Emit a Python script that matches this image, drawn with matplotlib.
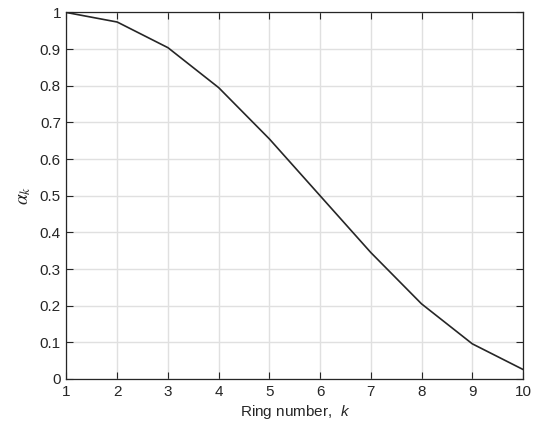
import matplotlib
matplotlib.use("Agg")
import matplotlib.pyplot as plt

# ring index and weights
ring = [1, 2, 3, 4, 5, 6, 7, 8, 9, 10]
alpha = [1.0, 0.974, 0.904, 0.795, 0.655, 0.5, 0.345, 0.205, 0.096, 0.026]

yticks = [0, 0.1, 0.2, 0.3, 0.4, 0.5, 0.6, 0.7, 0.8, 0.9, 1]
ytick_labels = ["0", "0.1", "0.2", "0.3", "0.4", "0.5", "0.6", "0.7", "0.8", "0.9", "1"]

plt.rcParams['font.family'] = ['Liberation Sans', 'DejaVu Sans']
plt.rcParams['mathtext.fontset'] = 'custom'
plt.rcParams['mathtext.it'] = 'Liberation Sans:italic'
plt.rcParams['mathtext.rm'] = 'Liberation Sans'

dark = '#262626'
fig = plt.figure(figsize=(5.38, 4.28), dpi=100)
ax = fig.add_axes([0.1236, 0.1145, 0.8485, 0.8563])

ax.plot(ring, alpha, color=dark, linewidth=1.2)

ax.set_xlim(1, 10)
ax.set_ylim(0, 1)
ax.set_xticks(ring)
ax.set_yticks(yticks)
ax.set_yticklabels(ytick_labels)
ax.grid(True, color='#e0e0e0', linewidth=1.0)
ax.set_axisbelow(True)
ax.tick_params(direction='in', length=5, width=0.8, colors=dark,
               labelsize=11, top=True, right=True, pad=4)
for s in ax.spines.values():
    s.set_color(dark)
    s.set_linewidth(0.9)

ax.set_xlabel(r'Ring number,  $k$', fontsize=11, color=dark, labelpad=3)
ax.set_ylabel(r'$\alpha_k$', fontsize=14, color=dark, math_fontfamily='stix', labelpad=5)

plt.savefig('out.png', dpi=100)
